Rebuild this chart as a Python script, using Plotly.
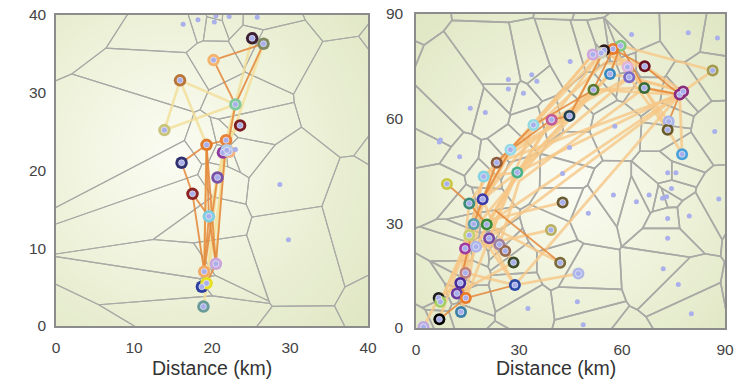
import plotly.graph_objects as go
import numpy as np

# ---------------- data: left panel ----------------
left_ring_x = [25.15, 26.6, 20.2, 15.9, 23.0, 23.6, 13.9, 19.3, 21.8, 21.4, 22.2, 21.9, 16.1, 20.7, 17.5, 19.6, 20.5, 19.0, 18.7, 19.3, 18.9]
left_ring_y = [37.0, 36.3, 34.2, 31.6, 28.5, 25.8, 25.2, 23.3, 23.9, 22.3, 22.4, 22.6, 21.0, 19.1, 17.0, 14.1, 8.0, 7.0, 5.05, 5.5, 2.5]
left_ring_c = ["#3b1f33", "#7f8a62", "#f2b46c", "#b8753a", "#82c99c", "#7a1c22", "#c9c47c", "#e07b2d", "#e8823a",
               "#8e3aa0", "#f5b080", "#b4cce6", "#2e3070", "#7a52a6", "#8b2323", "#80cce0", "#cba6dc", "#f3aa66",
               "#2d3fa0", "#e6e020", "#6a9a9a"]
left_dot_x = [16.3, 18.2, 20.3, 20.5, 22.2, 25.8, 28.7, 29.8, 23.0]
left_dot_y = [38.8, 39.4, 39.1, 39.9, 39.8, 39.7, 18.2, 11.1, 22.7]
# towers outside the visible window (shape the Voronoi cells)
left_hidden_x = [-70, -70, 5, 46, 46, 46, 46, 30, 36, 12, 38, 40]
left_hidden_y = [35, 5, 46, 36, 24, 12, 2, -6, 44, -9, 30, 14]

left_pale = [
    ([15.9, 23.0, 13.9, 15.9], [31.6, 28.5, 25.2, 31.6]),
    ([15.9, 19.3, 19.0], [31.6, 23.3, 7.0]),
    ([25.15, 26.6, 21.9, 18.9], [37.0, 36.3, 22.6, 2.5]),
    ([25.15, 23.0, 21.4, 20.5], [37.0, 28.5, 22.3, 8.0]),
    ([23.0, 21.9, 20.7, 19.3], [28.5, 22.6, 19.1, 5.5]),
    ([23.6, 21.8, 19.6], [25.8, 23.9, 14.1]),
]
left_orange = [
    ([20.2, 26.6, 23.0, 21.9], [34.2, 36.3, 28.5, 22.6]),
    ([20.2, 23.0], [34.2, 28.5]),
    ([21.8, 19.3, 16.1, 17.5, 19.6, 20.5, 19.3], [23.9, 23.3, 21.0, 17.0, 14.1, 8.0, 5.5]),
    ([17.5, 19.0, 19.3, 20.5, 21.8], [17.0, 7.0, 23.3, 8.0, 23.9]),
    ([19.3, 19.6, 19.0, 20.7], [23.3, 14.1, 7.0, 19.1]),
]

# ---------------- data: right panel ----------------
right_ring_x = [59.6, 57.4, 54.8, 53.9, 51.5, 66.6, 86.4, 61.6, 56.5, 62.1, 51.7, 66.5, 76.8, 77.8, 44.7, 39.5, 34.2,
                73.6, 73.3, 77.5, 27.5, 23.5, 29.5, 19.7, 9.0, 19.4, 42.7, 15.5, 16.8, 20.6, 39.3, 15.5, 21.3, 24.3,
                14.3, 26.0, 28.4, 42.0, 47.3, 14.4, 28.8, 12.9, 11.9, 14.5, 6.6, 7.1, 13.1, 6.8, 2.2, 17.5]
right_ring_y = [80.9, 80.0, 79.6, 78.8, 78.4, 75.0, 73.8, 74.8, 72.8, 71.9, 68.3, 68.8, 66.9, 67.8, 60.8, 59.7, 58.2,
                59.2, 56.8, 49.8, 51.1, 47.4, 44.6, 43.4, 41.3, 36.9, 36.0, 35.7, 29.8, 29.7, 28.1, 26.6, 25.7, 23.9,
                22.8, 22.1, 18.8, 18.7, 15.6, 15.8, 12.3, 12.9, 9.9, 8.6, 8.6, 7.5, 4.6, 2.5, 0.3, 23.3]
right_ring_c = ["#82c882", "#e8782a", "#2a1a1a", "#cfcdb4", "#cfa6dc", "#6a1020", "#a39c4c", "#e2b4da", "#3a8ac0",
                "#7a6ac8", "#5a7a30", "#3a6a3a", "#8a2a7a", "#8a2a7a", "#1f3f4f", "#c05a9a", "#94dae2", "#aab6ea",
                "#6a5a2a", "#4aa0d8", "#94dae8", "#8a5a3a", "#4ab08a", "#84d2e2", "#c8c840", "#3a3aa8", "#6a5a30",
                "#3a8a7a", "#5aa0b0", "#3a8a3a", "#b8b060", "#c8d070", "#7a4aa0", "#a080a0", "#a03aa0", "#9a6a50",
                "#3a4a2a", "#7a6a3a", "#b0b8e8", "#c08080", "#2a4aa8", "#4a2a9a", "#6a3aa0", "#e87a2a", "#202020",
                "#a0d060", "#3a80a8", "#000000", "#c0a8e0", "#b0b8ea"]
right_dot_x = [62.8, 79.3, 87.8, 44.9, 26.9, 33.7, 35.2, 26.9, 31.3, 15.8, 20.2, 7.1, 6.8, 12.7, 57.9, 44.7, 42.7,
               57.5, 64.2, 67.9, 73.3, 75.7, 74.4, 71.8, 73.0, 88.2, 79.6, 73.3, 50.2, 73.3, 72.0, 76.4, 47.0, 32.6,
               80.2, 48.7, 87.0]
right_dot_y = [84.1, 84.6, 83.1, 76.4, 71.2, 72.6, 70.7, 68.5, 67.3, 63.0, 61.8, 53.9, 53.3, 49.1, 57.8, 51.7, 44.3,
               38.1, 36.2, 38.1, 44.5, 44.5, 40.0, 37.2, 37.6, 37.0, 32.1, 31.4, 32.9, 25.7, 17.0, 12.5, 7.5, 5.6,
               4.1, 0.96, 56.3]
right_hidden_x = [-20, -20, -20, -20, 28, 46, 52, 57, 100, 100, 100, 60, 25, -10]
right_hidden_y = [78, 58, 32, 12, 104, 100, 98, 100, 62, 30, 8, -8, -8, 100]

right_pale = [
    ([7.1, 15.5, 19.7, 29.5, 44.7, 56.5, 62.1, 77.8, 86.4], [7.5, 26.6, 43.4, 44.6, 60.8, 72.8, 71.9, 67.8, 73.8]),
    ([59.6, 86.4], [80.9, 73.8]),
    ([77.5, 76.8, 28.8], [49.8, 66.9, 12.3]),
    ([77.8, 20.6], [67.8, 29.7]),
    ([76.8, 23.5], [66.9, 47.4]),
    ([47.3, 28.8, 14.4], [15.6, 12.3, 15.8]),
    ([42.7, 16.8], [36.0, 29.8]),
    ([39.3, 14.3], [28.1, 22.8]),
    ([42.0, 20.6], [18.7, 29.7]),
    ([28.8, 21.3, 17.5], [12.3, 25.7, 23.3]),
    ([13.1, 14.4, 16.8, 20.6, 29.5, 51.7, 66.5, 76.8], [4.6, 15.8, 29.8, 29.7, 44.6, 68.3, 68.8, 66.9]),
    ([2.2, 6.6, 12.9, 15.5, 23.5, 44.7, 54.8, 61.6, 66.5, 77.5], [0.3, 8.6, 12.9, 35.7, 47.4, 60.8, 79.6, 74.8, 68.8, 49.8]),
    ([11.9, 28.4, 26.0, 19.4, 27.5, 51.5, 57.4, 73.6], [9.9, 18.8, 22.1, 36.9, 51.1, 78.4, 80.0, 59.2]),
    ([14.3, 24.3, 21.3, 34.2, 53.9, 66.6, 77.8], [22.8, 23.9, 25.7, 58.2, 78.8, 75.0, 67.8]),
    ([28.8, 20.0, 76.8], [12.3, 25.0, 66.9]),
    ([17.5, 29.5, 77.8], [23.3, 44.6, 67.8]),
    ([15.5, 25.0, 56.5, 59.6], [26.6, 38.0, 72.8, 80.9]),
    ([14.5, 19.4, 30.0, 51.7, 76.8], [8.6, 36.9, 50.0, 68.3, 66.9]),
    ([12.9, 20.6, 39.5, 62.1, 73.3], [12.9, 29.7, 59.7, 71.9, 56.8]),
    ([6.8, 16.8, 27.5, 55.0, 66.6], [2.5, 29.8, 51.1, 76.0, 75.0]),
    ([7.1, 14.3, 19.7, 34.2, 51.5], [7.5, 22.8, 43.4, 58.2, 78.4]),
    ([13.1, 21.3, 29.5, 39.5, 53.9], [4.6, 25.7, 44.6, 59.7, 78.8]),
    ([11.9, 16.8, 23.5, 27.5, 44.7, 56.5], [9.9, 29.8, 47.4, 51.1, 60.8, 72.8]),
    ([12.9, 19.4, 29.5, 62.1, 77.8], [12.9, 36.9, 44.6, 71.9, 67.8]),
    ([24.3, 30.0, 66.5, 76.8], [23.9, 42.0, 68.8, 66.9]),
]
right_orange = [
    ([6.8, 14.5, 28.8], [2.5, 8.6, 12.3]),
    ([9.0, 15.5, 20.6], [41.3, 35.7, 29.7]),
    ([23.0, 42.0], [33.8, 18.7]),
    ([19.4, 27.5, 39.5, 44.7, 54.8, 57.4, 66.6, 76.8, 73.6, 73.3], [36.9, 51.1, 59.7, 60.8, 79.6, 80.0, 75.0, 66.9, 59.2, 56.8]),
    ([34.2, 51.7, 57.4, 51.5], [58.2, 68.3, 80.0, 78.4]),
    ([14.5, 12.9, 16.8, 23.5, 34.2], [8.6, 12.9, 29.8, 47.4, 58.2]),
    ([56.5, 59.6, 66.5, 76.8], [72.8, 80.9, 68.8, 66.9]),
]

X_TICKS_L = [0, 10, 20, 30, 40]
X_TICKS_R = [0, 30, 60, 90]
AXIS_TITLE = "Distance (km)"


# ---------------- Voronoi (half-plane clipping) ----------------
def clip(poly, a, b, c):
    out = []
    n = len(poly)
    for k in range(n):
        P, Q = poly[k], poly[(k + 1) % n]
        fp = a * P[0] + b * P[1] - c
        fq = a * Q[0] + b * Q[1] - c
        if fp <= 0:
            out.append(P)
        if fp * fq < 0:
            t = fp / (fp - fq)
            out.append((P[0] + t * (Q[0] - P[0]), P[1] + t * (Q[1] - P[1])))
    return out


def voronoi_lines(xs, ys, box):
    pts = []
    for x, y in zip(xs, ys):
        if all((x - p[0]) ** 2 + (y - p[1]) ** 2 > 0.05 for p in pts):
            pts.append((x, y))
    lx, ly = [], []
    for i, (xi, yi) in enumerate(pts):
        poly = [(box[0], box[2]), (box[1], box[2]), (box[1], box[3]), (box[0], box[3])]
        for j, (xj, yj) in enumerate(pts):
            if i == j:
                continue
            a, b = xj - xi, yj - yi
            c = a * (xi + xj) / 2 + b * (yi + yj) / 2
            poly = clip(poly, a, b, c)
            if not poly:
                break
        if poly:
            for p in poly + [poly[0]]:
                lx.append(p[0]); ly.append(p[1])
            lx.append(None); ly.append(None)
    return lx, ly


def gradient(rng, cx, cy):
    g = np.linspace(rng[0], rng[1], 41)
    X, Y = np.meshgrid(g, g)
    span = rng[1] - rng[0]
    z = np.sqrt(((X - cx) / span) ** 2 + ((Y - cy) / span) ** 2)
    return g, z


fig = go.Figure()

panels = [
    dict(xa="x", ya="y", rng=(0, 40), rx=left_ring_x, ry=left_ring_y, rc=left_ring_c, dx=left_dot_x, dy=left_dot_y,
         hx=left_hidden_x, hy=left_hidden_y, pale=left_pale, orange=left_orange, vw=1.1, ring=12.5, cx=15, cy=22,
         pale_col="#f3df98", pale_w=2.6, pale_op=0.8),
    dict(xa="x2", ya="y2", rng=(0, 90), rx=right_ring_x, ry=right_ring_y, rc=right_ring_c, dx=right_dot_x, dy=right_dot_y,
         hx=right_hidden_x, hy=right_hidden_y, pale=right_pale, orange=right_orange, vw=1.6, ring=12, cx=45, cy=42,
         pale_col="#f7c888", pale_w=2.8, pale_op=0.8),
]

for p in panels:
    g, z = gradient(p["rng"], p["cx"], p["cy"])
    fig.add_trace(go.Heatmap(x=g, y=g, z=z, xaxis=p["xa"], yaxis=p["ya"], zsmooth="best", showscale=False,
                             colorscale=[[0, "#fbfcf3"], [0.45, "#eff3dc"], [1, "#dfe6c2"]], hoverinfo="skip"))
    sx = list(p["dx"]) + list(p["rx"]) + list(p["hx"])
    sy = list(p["dy"]) + list(p["ry"]) + list(p["hy"])
    span = p["rng"][1]
    vx, vy = voronoi_lines(sx, sy, (-2 * span, 3 * span, -2 * span, 3 * span))
    fig.add_trace(go.Scatter(x=vx, y=vy, mode="lines", xaxis=p["xa"], yaxis=p["ya"],
                             line=dict(color="#a9aaa6", width=p["vw"]), hoverinfo="skip"))
    for tx, ty in p["pale"]:
        fig.add_trace(go.Scatter(x=tx, y=ty, mode="lines", xaxis=p["xa"], yaxis=p["ya"], opacity=p["pale_op"],
                                 line=dict(color=p["pale_col"], width=p["pale_w"]), hoverinfo="skip"))
    for tx, ty in p["orange"]:
        fig.add_trace(go.Scatter(x=tx, y=ty, mode="lines", xaxis=p["xa"], yaxis=p["ya"], opacity=0.85,
                                 line=dict(color="#e4873a", width=1.9), hoverinfo="skip"))
    fig.add_trace(go.Scatter(x=p["rx"], y=p["ry"], mode="markers", xaxis=p["xa"], yaxis=p["ya"],
                             marker=dict(size=p["ring"], color=p["rc"], line=dict(width=0)), hoverinfo="skip"))
    fig.add_trace(go.Scatter(x=p["rx"], y=p["ry"], mode="markers", xaxis=p["xa"], yaxis=p["ya"],
                             marker=dict(size=6, color="#a9afea", line=dict(width=1, color="rgba(255,255,255,0.55)")),
                             hoverinfo="skip"))
    fig.add_trace(go.Scatter(x=p["dx"], y=p["dy"], mode="markers", xaxis=p["xa"], yaxis=p["ya"],
                             marker=dict(size=5, color="#aab0ec", line=dict(width=0)), hoverinfo="skip"))

# the page body adds an 8px margin, so the figure is drawn 8px smaller and positions are shifted by 8px
OFF = 8
W, H = 747 - OFF, 383 - OFF


def px_x(v):
    return (v - OFF) / W


def px_y(v):
    return 1 - (v - OFF) / H


axis_common = dict(showgrid=False, zeroline=False, showline=True, mirror=True, linecolor="#8c8c8c", linewidth=1.5,
                   ticks="", automargin=False, ticklabeloverflow="allow",
                   tickfont=dict(family="Liberation Sans, Arial, sans-serif", size=15.5, color="#444444"))

title_font = dict(family="Liberation Sans, Arial, sans-serif", size=19.5, color="#333333")

fig.update_layout(
    width=W, height=H, margin=dict(l=0, r=0, t=0, b=0, autoexpand=False),
    paper_bgcolor="white", plot_bgcolor="white", showlegend=False,
    xaxis=dict(domain=[px_x(56), px_x(368)], range=[0, 40], tickvals=X_TICKS_L, anchor="y", ticklabelstandoff=7, **axis_common),
    yaxis=dict(domain=[px_y(326), px_y(15)], range=[0, 40], tickvals=X_TICKS_L, anchor="x", ticklabelstandoff=5, **axis_common),
    xaxis2=dict(domain=[px_x(416), px_x(725)], range=[0, 90], tickvals=X_TICKS_R, anchor="y2", ticklabelstandoff=7, **axis_common),
    yaxis2=dict(domain=[px_y(328), px_y(14)], range=[0, 90], tickvals=X_TICKS_R, anchor="x2", ticklabelstandoff=8, **axis_common),
    annotations=[
        dict(text=AXIS_TITLE, x=px_x(212), y=px_y(368), xref="paper", yref="paper", showarrow=False,
             xanchor="center", yanchor="middle", font=title_font),
        dict(text=AXIS_TITLE, x=px_x(556), y=px_y(368), xref="paper", yref="paper", showarrow=False,
             xanchor="center", yanchor="middle", font=title_font),
    ],
)

fig.write_html("out.html")
